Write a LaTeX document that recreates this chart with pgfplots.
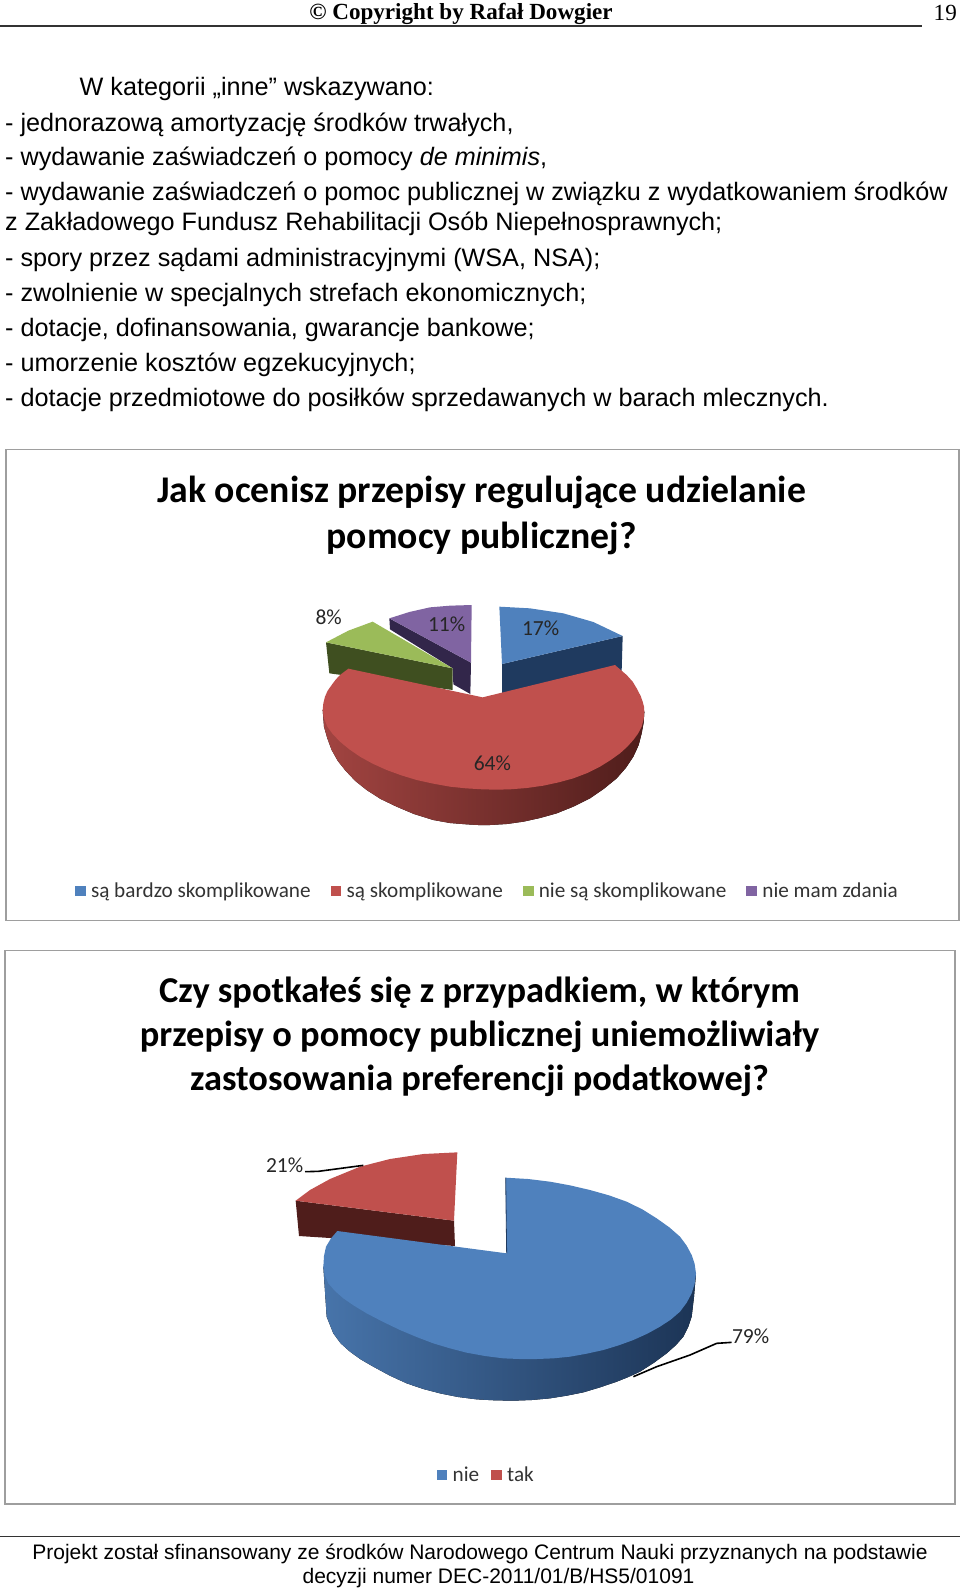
\documentclass[border=0pt]{standalone}
\usepackage{fontspec}
\usepackage{pgfplots}
\pgfplotsset{compat=1.18}
\setmainfont{Liberation Sans}
\newfontfamily\lserif{Liberation Serif}
\newfontfamily\calib{Carlito}
\definecolor{cblue}{HTML}{4F81BD}
\definecolor{cred}{HTML}{C0504D}
\definecolor{cgreen}{HTML}{9BBB59}
\definecolor{cpurple}{HTML}{8064A2}
\definecolor{sblue}{HTML}{1F3A5F}
\definecolor{sgreen}{HTML}{3F4F20}
\definecolor{spurple}{HTML}{32264A}
\definecolor{sred}{HTML}{4F1D1B}
\definecolor{rl}{HTML}{A24441}
\definecolor{rm}{HTML}{723130}
\newcommand{\T}[3]{\node[anchor=base west,inner sep=0pt,text=black] at (#1pt,-#2pt) {#3};}
\newcommand{\C}[3]{\node[anchor=base,inner sep=0pt,text=black] at (#1pt,-#2pt) {#3};}
\pgfplotsset{
  pieaxis/.style={
    scale only axis, clip=false, y dir=reverse,
    xtick=\empty, ytick=\empty,
    axis line style={draw=black!38,line width=1.2pt},
    title style={align=center,anchor=center,text=black},
    legend image code/.code={\path[##1] (0pt,-5.3pt) rectangle (10.8pt,5.3pt);\path (14pt,0pt);},
    legend style={draw=none,fill=none,inner sep=0pt,outer sep=0pt,text=black!80,
      font=\calib\fontsize{21.2}{24}\selectfont,
      /tikz/every even column/.append style={column sep=18pt},
      /tikz/every odd column/.append style={column sep=0pt}},
    legend cell align=left,
  },
  flat/.style={fill=#1,draw=none,forget plot},
}
\begin{document}
\begin{tikzpicture}
\useasboundingbox (0pt,0pt) rectangle (960pt,-1589pt);
% ---- header
\node[anchor=base,inner sep=0pt] at (461pt,-20pt) {\lserif\fontsize{23.1}{26}\selectfont\bfseries © Copyright by Rafał Dowgier};
\T{933.5}{21}{\lserif\fontsize{23.1}{26}\selectfont 19}
\draw[black!80,line width=1.1pt] (0pt,-26pt) -- (921.6pt,-26pt);
% ---- body text
\begingroup
\fontsize{25.2}{28}\selectfont
\T{79.5}{95.5}{W kategorii „inne” wskazywano:}
\T{5}{131.5}{- jednorazową amortyzację środków trwałych,}
\T{5}{166}{- wydawanie zaświadczeń o pomocy \textit{de minimis},}
\T{5}{201}{- wydawanie zaświadczeń o pomoc publicznej w związku z wydatkowaniem środków}
\T{5}{231}{z Zakładowego Fundusz Rehabilitacji Osób Niepełnosprawnych;}
\T{5}{266}{- spory przez sądami administracyjnymi (WSA, NSA);}
\T{5}{301}{- zwolnienie w specjalnych strefach ekonomicznych;}
\T{5}{336}{- dotacje, dofinansowania, gwarancje bankowe;}
\T{5}{371.5}{- umorzenie kosztów egzekucyjnych;}
\T{5}{406.5}{- dotacje przedmiotowe do posiłków sprzedawanych w barach mlecznych.}
\endgroup
% ---- first chart (axis units: 1/3 pixel)
\begin{axis}[pieaxis, at={(6pt,-449.5pt)}, anchor=north west,
  width=953pt, height=471pt,
  xmin=-852, xmax=2007, ymin=-421.5, ymax=991.5,
  title={Jak ocenisz przepisy regulujące udzielanie\\pomocy publicznej?},
  title style={at={(axis description cs:0.499,0.847)},
    font=\calib\bfseries\fontsize{37.7}{45.8}\selectfont},
  legend columns=4,
  legend style={at={(axis cs:-645,903)},anchor=west},
]
\addlegendimage{fill=cblue,draw=none}
\addlegendentry{są bardzo skomplikowane}
\addlegendimage{fill=cred,draw=none}
\addlegendentry{są skomplikowane}
\addlegendimage{fill=cgreen,draw=none}
\addlegendentry{nie są skomplikowane}
\addlegendimage{fill=cpurple,draw=none}
\addlegendentry{nie mam zdania}
% purple
\addplot[flat=spurple] coordinates {(298,85) (543,218) (541,312) (490,283) (488,235) (300,118)} -- cycle;
\addplot[flat=cpurple] coordinates {(543,218) (545,45) (480,47) (420,52) (358,66) (298,85)} -- cycle;
% green
\addplot[flat=sgreen] coordinates {(108,157) (488,235) (488,300) (118,250)} -- cycle;
\addplot[flat=cgreen] coordinates {(488,235) (108,157) (175,122) (248,95)} -- cycle;
% blue
\addplot[flat=sblue] coordinates {(636,222) (998,138) (995,242) (636,310)} -- cycle;
\addplot[flat=cblue] coordinates {(636,222) (628,50) (720,55) (820,70) (910,96) (998,138)} -- cycle;
% red side
\addplot[fill,draw=none,forget plot,left color=rl,middle color=rm,right color=sred]
 coordinates {(98,360) (102,410) (112,445) (125,480) (143,512) (165,540) (195,572) (230,600) (272,627) (320,650) (372,672) (430,690) (480,699) (530,703) (565,705) (600,705) (650,702) (700,695) (750,684) (800,670) (852,649) (900,625) (942,596) (980,565) (1008,533) (1030,500) (1046,465) (1055,430) (1061,397) (1063,365) (580,400)} -- cycle;
% red top
\addplot[fill=cred,draw=none,forget plot] coordinates {
 (578,322) (975,225) (1010,255) (1028,275) (1040,295) (1052,318) (1058,335) (1062,350) (1063,365) (1061,388) (1055,410) (1044,431) (1030,450) (1012,470) (990,490) (962,510) (930,530) (892,549) (850,565) (806,577) (760,587) (710,594) (660,598) (618,599) (578,598) (528,595) (480,590) (430,581) (380,570) (334,556) (290,540) (248,521) (210,500) (178,478) (150,455) (128,432) (112,410) (102,385) (98,360) (100,340) (105,320) (113,302) (125,285) (137,269) (150,255) (175,236)} -- cycle;
\node[text=black!85,font=\calib\fontsize{21.5}{24}\selectfont] at (axis cs:116,82) {8\%};
\node[text=black!85,font=\calib\fontsize{21.5}{24}\selectfont] at (axis cs:470,102) {11\%};
\node[text=black!85,font=\calib\fontsize{21.5}{24}\selectfont] at (axis cs:752,115) {17\%};
\node[text=black!85,font=\calib\fontsize{21.5}{24}\selectfont] at (axis cs:607,520) {64\%};
\end{axis}
% ---- second chart (axis units: 1/3 pixel)
\begin{axis}[pieaxis, at={(5pt,-950.5pt)}, anchor=north west,
  width=950pt, height=553.5pt,
  xmin=-735, xmax=2115, ymin=-538.5, ymax=1122,
  title={Czy spotkałeś się z przypadkiem, w którym\\przepisy o pomocy publicznej uniemożliwiały\\zastosowania preferencji podatkowej?},
  title style={at={(axis description cs:0.4995,0.8336)},
    font=\calib\bfseries\fontsize{36.4}{44.2}\selectfont},
  legend columns=2,
  legend style={at={(axis cs:560,1035)},anchor=west},
  legend style={/tikz/every even column/.append style={column sep=10pt}},
]
\addlegendimage{fill=cblue,draw=none}
\addlegendentry{nie}
\addlegendimage{fill=cred,draw=none}
\addlegendentry{tak}
% red slice
\addplot[flat=sred] coordinates {(137,212) (612,272) (615,348) (147,318)} -- cycle;
\addplot[flat=cred] coordinates {(612,272) (622,67) (520,72) (420,87) (330,110) (240,147) (180,180) (137,212)} -- cycle;
% blue side
\addplot[fill,draw=none,forget plot,left color=cblue!90!black,middle color=cblue!55!black,right color=sblue!90!black]
 coordinates {(220,410) (230,560) (250,610) (272,640) (300,665) (332,688) (370,710) (420,737) (470,760) (520,777) (570,790) (625,801) (680,808) (735,811) (790,812) (845,810) (900,805) (950,797) (1000,787) (1050,772) (1100,755) (1135,741) (1170,725) (1212,698) (1250,670) (1278,645) (1300,620) (1315,590) (1325,560) (1332,500) (1338,430) (780,450)} -- cycle;
% blue top
\addplot[fill=cblue,draw=none,forget plot] coordinates {
 (770,370) (767,143) (835,147) (900,155) (960,166) (1020,180) (1077,196) (1130,215) (1177,238) (1220,265) (1258,292) (1290,320) (1310,347) (1325,375) (1334,402) (1338,430) (1334,461) (1325,490) (1310,518) (1290,545) (1262,569) (1230,590) (1192,611) (1150,630) (1106,646) (1060,660) (1010,671) (960,680) (910,685) (860,687) (810,687) (760,685) (705,678) (650,668) (600,655) (550,640) (500,621) (450,600) (400,576) (350,550) (312,527) (280,505) (255,483) (235,460) (225,436) (220,410) (222,378) (228,350) (243,325) (262,303)} -- cycle;
\addplot[draw=sblue,line width=0.8pt,forget plot] coordinates {(767,143) (770,370)};
% leader lines
\addplot[draw=black,line width=1.6pt,forget plot] coordinates {(165,125) (205,124) (340,106)};
\addplot[draw=black,line width=1.6pt,forget plot] coordinates {(1150,740) (1220,710) (1320,675) (1400,640) (1445,637)};
\node[text=black!85,font=\calib\fontsize{21.5}{24}\selectfont] at (axis cs:104,105) {21\%};
\node[text=black!85,font=\calib\fontsize{21.5}{24}\selectfont] at (axis cs:1502,620) {79\%};
\end{axis}
% ---- footer
\draw[black!80,line width=1.1pt] (0pt,-1536.7pt) -- (960pt,-1536.7pt);
\begingroup
\fontsize{21}{24}\selectfont
\C{480}{1559.5}{Projekt został sfinansowany ze środków Narodowego Centrum Nauki przyznanych na podstawie}
\C{498.5}{1583.5}{decyzji numer DEC-2011/01/B/HS5/01091}
\endgroup
\end{tikzpicture}
\end{document}
